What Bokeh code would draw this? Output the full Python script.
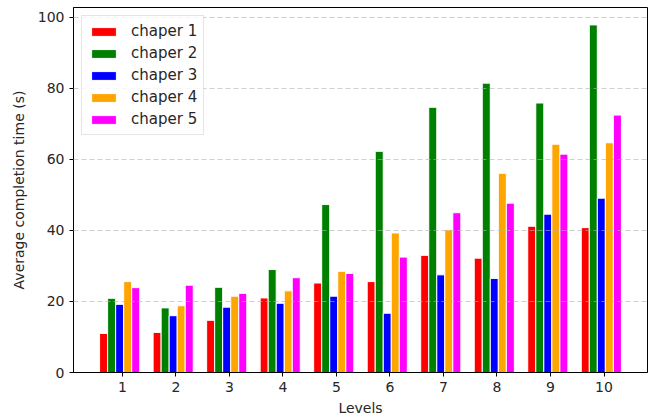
from bokeh.plotting import figure
from bokeh.models import ColumnDataSource, Range1d, Legend, LegendItem, FixedTicker
from bokeh.transform import dodge
from bokeh.embed import file_html
from bokeh.resources import INLINE

levels = [1, 2, 3, 4, 5, 6, 7, 8, 9, 10]
chapter_names = ["chaper 1", "chaper 2", "chaper 3", "chaper 4", "chaper 5"]
chaper1 = [11.0, 11.3, 14.7, 21.0, 25.2, 25.6, 33.0, 32.2, 41.2, 40.8]
chaper2 = [20.9, 18.2, 24.0, 29.0, 47.3, 62.3, 74.7, 81.5, 75.9, 97.9]
chaper3 = [19.2, 16.0, 18.4, 19.5, 21.5, 16.7, 27.5, 26.5, 44.6, 49.1]
chaper4 = [25.6, 18.8, 21.5, 23.0, 28.5, 39.3, 40.2, 56.1, 64.3, 64.7]
chaper5 = [23.9, 24.6, 22.3, 26.7, 27.9, 32.5, 45.0, 47.7, 61.5, 72.5]
colors = ["red", "green", "blue", "orange", "magenta"]
offsets = [-0.35, -0.2, -0.05, 0.1, 0.25]

source = ColumnDataSource(dict(level=levels, c1=chaper1, c2=chaper2, c3=chaper3, c4=chaper4, c5=chaper5))
series_cols = ["c1", "c2", "c3", "c4", "c5"]

FONT = "DejaVu Sans"

p = figure(width=652, height=418, output_backend="svg", toolbar_location=None,
           x_range=Range1d(0.0875, 10.8125), y_range=Range1d(0, 102.8),
           min_border_left=73, min_border_right=5, min_border_top=7, min_border_bottom=46)

renderers = []
for col, c, off in zip(series_cols, colors, offsets):
    r = p.vbar(x=dodge("level", off, range=p.x_range), top=col, width=0.15, bottom=0,
               source=source, fill_color=c, line_color="white", line_width=1)
    renderers.append(r)

p.outline_line_color = "black"
p.outline_line_width = 1
p.outline_line_alpha = 1

p.xgrid.visible = False
p.ygrid.grid_line_color = "#b0b0b0"
p.ygrid.grid_line_alpha = 0.6
p.ygrid.grid_line_dash = "5 3"
p.ygrid.level = "overlay"

p.xaxis.ticker = FixedTicker(ticks=levels)
p.yaxis.ticker = FixedTicker(ticks=[0, 20, 40, 60, 80, 100])

for ax in (p.xaxis[0], p.yaxis[0]):
    ax.axis_line_color = "black"
    ax.major_tick_line_color = "black"
    ax.major_tick_out = 4
    ax.major_tick_in = 0
    ax.minor_tick_out = 0
    ax.minor_tick_in = 0
    ax.major_label_text_font = FONT
    ax.major_label_text_font_size = "14px"
    ax.major_label_text_color = "#262626"
    ax.axis_label_text_font = FONT
    ax.axis_label_text_font_size = "14px"
    ax.axis_label_text_font_style = "normal"
    ax.axis_label_text_color = "#262626"

p.xaxis.axis_label = "Levels"
p.yaxis.axis_label = "Average completion time (s)"
p.xaxis.axis_label_standoff = 5
p.yaxis.axis_label_standoff = 8

items = [LegendItem(label=n, renderers=[r]) for n, r in zip(chapter_names, renderers)]
legend = Legend(items=items, location="top_left")
legend.label_text_font = FONT
legend.label_text_font_size = "15px"
legend.label_text_color = "#262626"
legend.glyph_width = 31
legend.glyph_height = 11
legend.label_height = 18
legend.spacing = 4
legend.padding = 6
legend.margin = 8
legend.label_standoff = 12
legend.border_line_color = "#cccccc"
legend.border_line_width = 1
legend.background_fill_alpha = 0.8
p.add_layout(legend)

open("out.html", "w").write(file_html(p, INLINE))
